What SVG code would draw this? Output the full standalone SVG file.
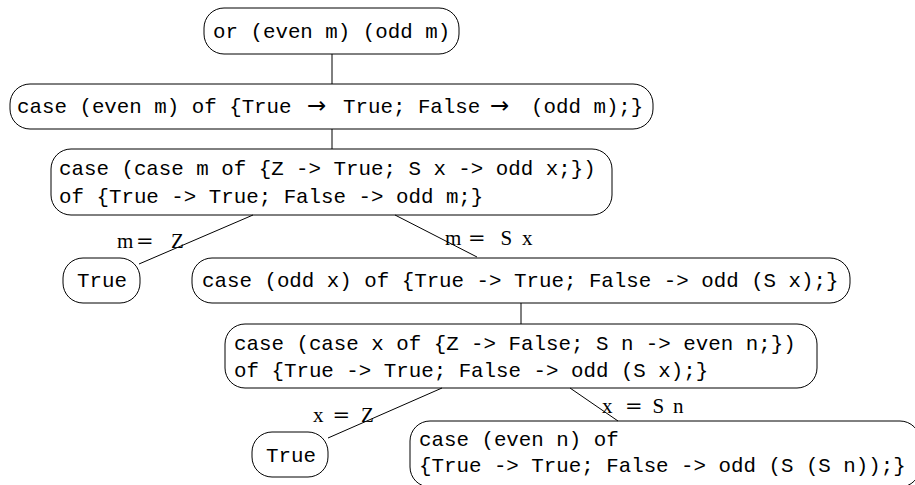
<svg xmlns="http://www.w3.org/2000/svg" width="915" height="485" viewBox="0 0 915 485">
<style>
rect.n { fill: #fff; stroke: #000; stroke-width: 1; }
text.t { font-family: "Liberation Mono", "DejaVu Sans Mono", monospace; font-size: 20.8px; fill: #000; }
text.a { font-family: "DejaVu Sans", sans-serif; font-size: 23px; fill: #000; }
text.l { font-family: "Liberation Serif", "DejaVu Serif", serif; font-size: 21px; fill: #000; }
tspan.eq { font-family: "DejaVu Serif", serif; }
#edges line { stroke: #000; stroke-width: 1; }
</style>
<rect width="915" height="485" fill="#fff"/>
<g id="nodes">
<g id="n1">
<rect class="n" x="204" y="8" width="255" height="46" rx="20" ry="20"/>
<text class="t" x="213" y="38">or (even m) (odd m)</text>
</g>
<g id="n2">
<rect class="n" x="10" y="84" width="643" height="45" rx="20" ry="20"/>
<text class="t" x="17" y="113">case (even m) of {True</text>
<text class="a" x="307" y="113">→</text>
<text class="t" x="343" y="113">True; False</text>
<text class="a" x="490" y="113">→</text>
<text class="t" x="531" y="113">(odd m);}</text>
</g>
<g id="n3">
<rect class="n" x="51" y="149" width="561" height="66" rx="20" ry="20"/>
<text class="t" x="59" y="175">case (case m of {Z -&gt; True; S x -&gt; odd x;})</text>
<text class="t" x="59" y="203">of {True -&gt; True; False -&gt; odd m;}</text>
</g>
<g id="n4">
<rect class="n" x="63" y="258" width="77" height="45" rx="20" ry="20"/>
<text class="t" x="77" y="287">True</text>
</g>
<g id="n5">
<rect class="n" x="192" y="258" width="658" height="45" rx="20" ry="20"/>
<text class="t" x="202" y="287">case (odd x) of {True -&gt; True; False -&gt; odd (S x);}</text>
</g>
<g id="n6">
<rect class="n" x="225" y="324" width="592" height="64" rx="20" ry="20"/>
<text class="t" x="234" y="350">case (case x of {Z -&gt; False; S n -&gt; even n;})</text>
<text class="t" x="234" y="377">of {True -&gt; True; False -&gt; odd (S x);}</text>
</g>
<g id="n7">
<rect class="n" x="252" y="432" width="76" height="45" rx="20" ry="20"/>
<text class="t" x="266" y="462">True</text>
</g>
<g id="n8">
<rect class="n" x="410" y="421" width="510" height="66" rx="20" ry="20"/>
<text class="t" x="419" y="446">case (even n) of</text>
<text class="t" x="419" y="472">{True -&gt; True; False -&gt; odd (S (S n));}</text>
</g>
</g>
<g id="edges">
<line x1="332" y1="54" x2="332" y2="84"/>
<line x1="332" y1="129" x2="332" y2="149"/>
<line x1="253" y1="215" x2="139" y2="264"/>
<line x1="395" y1="215" x2="477" y2="257"/>
<line x1="521" y1="303" x2="521" y2="324"/>
<line x1="442" y1="388" x2="328" y2="438"/>
<line x1="570" y1="388" x2="618" y2="421"/>
</g>
<g id="labels">
<text class="l" y="248"><tspan x="117">m</tspan><tspan x="133"> </tspan><tspan class="eq" x="136">=</tspan><tspan x="160"> </tspan><tspan x="171">Z</tspan></text>
<text class="l" y="245"><tspan x="445">m</tspan><tspan x="462"> </tspan><tspan class="eq" x="468">=</tspan><tspan x="492"> </tspan><tspan x="500.5">S</tspan><tspan x="514"> </tspan><tspan x="522">x</tspan></text>
<text class="l" y="422"><tspan x="313">x</tspan><tspan x="325"> </tspan><tspan class="eq" x="332.5">=</tspan><tspan x="353"> </tspan><tspan x="361">Z</tspan></text>
<text class="l" y="413"><tspan x="602">x</tspan><tspan x="614"> </tspan><tspan class="eq" x="625">=</tspan><tspan x="645"> </tspan><tspan x="652.5">S</tspan><tspan x="666"> </tspan><tspan x="673">n</tspan></text>
</g>
</svg>
